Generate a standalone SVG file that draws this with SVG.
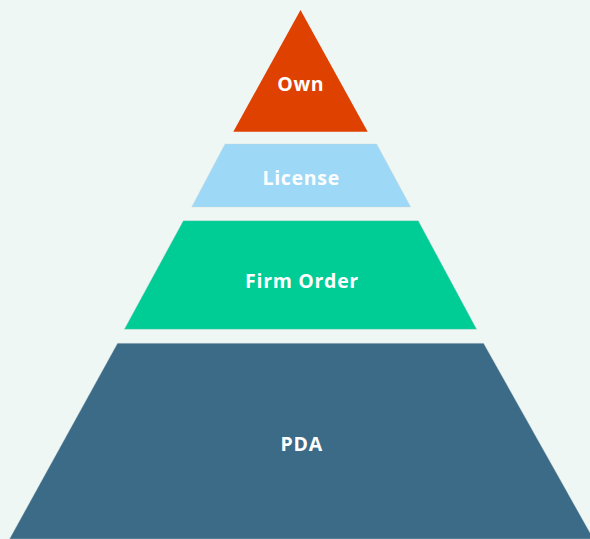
<svg xmlns="http://www.w3.org/2000/svg" width="590" height="539" viewBox="0 0 590 539">
<style>
.lbl{font-family:"Open Sans","Liberation Sans",sans-serif;font-weight:700;font-size:19.5px;letter-spacing:0.7px;fill:#ffffff;text-anchor:middle}
.edge{stroke:#c9d6d3;stroke-width:0.6;stroke-opacity:0.6}
</style>
<rect width="590" height="539" fill="#eff7f5"/>
<g id="own">
<polygon points="300.5,10 367.7,131.7 233.3,131.7" fill="#df4100"/>
<text class="lbl" x="300.8" y="91">Own</text>
</g>
<g id="license">
<polygon class="edge" points="225,144 376.7,144 410.7,207 191.7,207" fill="#9dd9f7"/>
<text class="lbl" x="301.2" y="185">License</text>
</g>
<g id="firm-order">
<polygon class="edge" points="183.3,220.7 418.3,220.7 476.7,329.3 124.3,329.3" fill="#00cc96"/>
<text class="lbl" x="302" y="288">Firm Order</text>
</g>
<g id="pda">
<polygon class="edge" points="117.5,343.3 483.6,343.3 593.5,539 9.5,539" fill="#3c6b88"/>
<text class="lbl" x="301.7" y="451">PDA</text>
</g>
<g id="connectors"/>
</svg>
